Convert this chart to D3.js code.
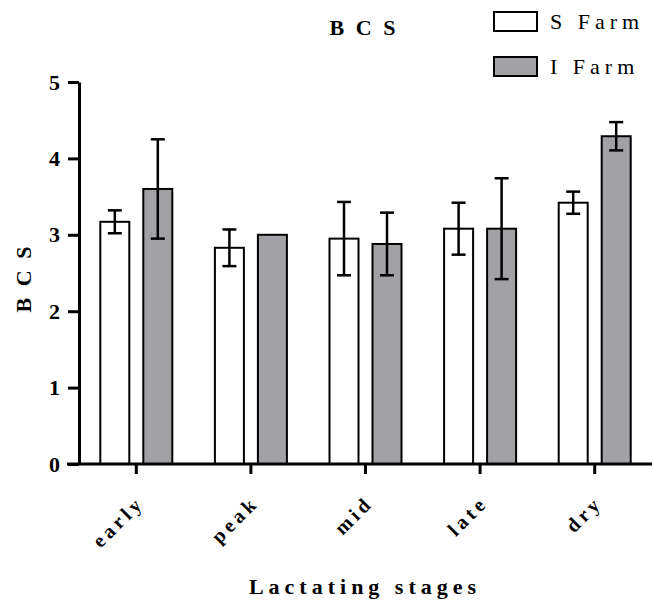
<!DOCTYPE html>
<html>
<head>
<meta charset="utf-8">
<script src="https://cdn.jsdelivr.net/npm/d3@7"></script>
<style>
  html, body { margin: 0; padding: 0; background: #fff; }
  svg { display: block; }
</style>
</head>
<body>
<svg id="chart" width="652" height="606"></svg>
<script>
// Lactation stages on the x axis
const stages = ["early", "peak", "mid", "late", "dry"];
// Farms (series)
const farms = ["S Farm", "I Farm"];
// Mean body condition score per stage
const sFarmMean = [3.17, 2.83, 2.95, 3.08, 3.42];
const iFarmMean = [3.60, 3.00, 2.88, 3.08, 4.29];
// Error (± half-range) per stage; 0 = no bar drawn
const sFarmErr = [0.15, 0.24, 0.48, 0.34, 0.145];
const iFarmErr = [0.65, 0, 0.41, 0.66, 0.185];
// Y tick values
const yTicks = [0, 1, 2, 3, 4, 5];

const FONT = "'Liberation Serif', 'Times New Roman', serif";
const fills = { "S Farm": "#ffffff", "I Farm": "#a2a1a6" };

const svg = d3.select("#chart");

const x0 = d3.scaleBand().domain(stages).range([79, 652]).paddingInner(0).paddingOuter(0);
const x1 = d3.scaleBand().domain(farms).range([-36, 36]).paddingInner(1 - 29 / 43).paddingOuter(0);
const y = d3.scaleLinear().domain([0, 5]).range([464, 82]);

const rows = stages.map((s, i) => ({
  stage: s,
  values: [
    { farm: "S Farm", mean: sFarmMean[i], err: sFarmErr[i] },
    { farm: "I Farm", mean: iFarmMean[i], err: iFarmErr[i] }
  ]
}));

// Bars
const groups = svg.append("g").selectAll("g")
  .data(rows).join("g")
  .attr("transform", d => `translate(${x0(d.stage) + x0.bandwidth() / 2},0)`);

groups.selectAll("rect")
  .data(d => d.values).join("rect")
  .attr("x", d => x1(d.farm))
  .attr("width", x1.bandwidth())
  .attr("y", d => y(d.mean))
  .attr("height", d => y(0) - y(d.mean))
  .attr("fill", d => fills[d.farm])
  .attr("stroke", "#000")
  .attr("stroke-width", 2);

// Error bars
const eb = groups.selectAll("g.err")
  .data(d => d.values.filter(v => v.err > 0)).join("g")
  .attr("class", "err")
  .attr("stroke", "#000")
  .attr("stroke-width", 2.5);
eb.append("line")
  .attr("x1", d => x1(d.farm) + x1.bandwidth() / 2)
  .attr("x2", d => x1(d.farm) + x1.bandwidth() / 2)
  .attr("y1", d => y(d.mean + d.err))
  .attr("y2", d => y(d.mean - d.err));
eb.selectAll("line.cap")
  .data(d => [{ d, v: d.mean + d.err }, { d, v: d.mean - d.err }]).join("line")
  .attr("class", "cap")
  .attr("x1", c => x1(c.d.farm) + x1.bandwidth() / 2 - 7)
  .attr("x2", c => x1(c.d.farm) + x1.bandwidth() / 2 + 7)
  .attr("y1", c => y(c.v))
  .attr("y2", c => y(c.v));

// Y axis
const yAxis = svg.append("g")
  .attr("transform", "translate(79,0)")
  .call(d3.axisLeft(y).tickValues(yTicks).tickFormat(d3.format("d")).tickSize(11).tickSizeOuter(0).tickPadding(8));
yAxis.select(".domain").attr("stroke-width", 3);
yAxis.selectAll(".tick line").attr("stroke-width", 3);
yAxis.selectAll(".tick text")
  .style("font-family", FONT)
  .style("font-weight", "bold")
  .style("font-size", "22px");

// X axis
const xAxis = svg.append("g")
  .attr("transform", `translate(0,${y(0)})`)
  .call(d3.axisBottom(x0).tickSize(10).tickSizeOuter(0));
xAxis.select(".domain").remove();
xAxis.append("line")
  .attr("x1", 67).attr("x2", 652)
  .attr("stroke", "#000").attr("stroke-width", 3);
xAxis.selectAll(".tick line").attr("stroke-width", 3);
xAxis.selectAll(".tick text")
  .style("font-family", FONT)
  .style("font-weight", "bold")
  .style("font-size", "20px")
  .style("letter-spacing", "4px")
  .attr("text-anchor", "end")
  .attr("y", 0).attr("dy", 0)
  .attr("transform", "translate(9,40) rotate(-45)");

// Axis titles
svg.append("text")
  .attr("x", 365).attr("y", 594)
  .attr("text-anchor", "middle")
  .style("font-family", FONT)
  .style("font-weight", "bold")
  .style("font-size", "22px")
  .style("letter-spacing", "5px")
  .text("Lactating stages");

svg.append("text")
  .attr("transform", "translate(31,278) rotate(-90)")
  .attr("text-anchor", "middle")
  .style("font-family", FONT)
  .style("font-weight", "bold")
  .style("font-size", "22px")
  .style("letter-spacing", "3px")
  .text("B C S");

// Chart title
svg.append("text")
  .attr("x", 364).attr("y", 35)
  .attr("text-anchor", "middle")
  .style("font-family", FONT)
  .style("font-weight", "bold")
  .style("font-size", "22px")
  .style("letter-spacing", "3px")
  .text("B C S");

// Legend
const legend = svg.append("g").selectAll("g")
  .data(farms).join("g")
  .attr("transform", (d, i) => `translate(494,${12 + i * 45})`);
legend.append("rect")
  .attr("width", 43).attr("height", 19)
  .attr("fill", d => fills[d])
  .attr("stroke", "#000").attr("stroke-width", 2);
legend.append("text")
  .attr("x", 56).attr("y", 17)
  .style("font-family", FONT)
  .style("font-size", "22px")
  .style("letter-spacing", "5px")
  .text(d => d);
</script>
</body>
</html>
